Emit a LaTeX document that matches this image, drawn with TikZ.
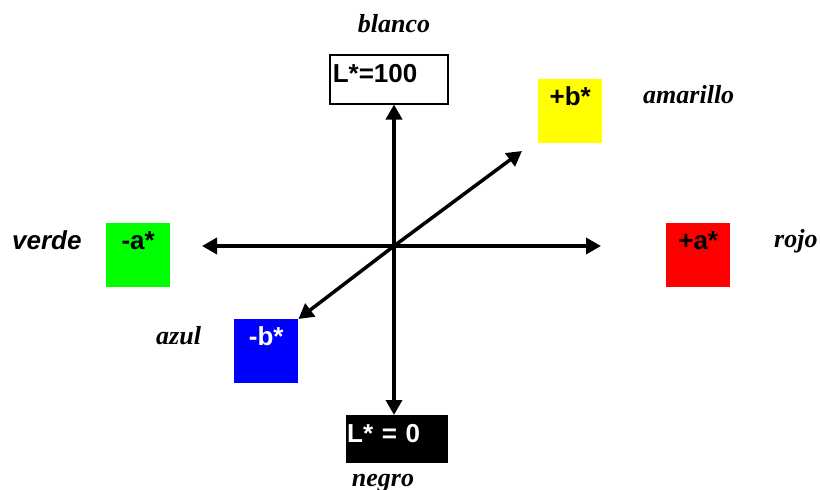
\documentclass[tikz,border=0pt]{standalone}
\usepackage{fontspec}
\setmainfont{Liberation Serif}
\setsansfont{Liberation Sans}
\usetikzlibrary{arrows.meta}
\definecolor{lab-red}{HTML}{FF0000}
\definecolor{lab-green}{HTML}{00FF00}
\definecolor{lab-blue}{HTML}{0000FF}
\definecolor{lab-yellow}{HTML}{FFFF00}
\newcommand{\bigsize}{\fontsize{26}{30}\selectfont}

\begin{document}
\begin{tikzpicture}[
    x=1pt, y=-1pt,
    >={Triangle[length=15pt,width=16pt]}
  ]

  % Styles for the colour swatches, the L* boxes and the colour names
  \tikzset{
    swatch/.style={anchor=north west, inner sep=0pt, minimum width=64pt, text height=26pt, text depth=38pt, font=\sffamily\bfseries\bigsize},
    lbox/.style={anchor=north west, inner ysep=0pt, align=left, text depth=21pt, font=\sffamily\bfseries\bigsize},
    cname/.style={font=\bfseries\itshape\bigsize},
    axis/.style={->, line width=3.5pt}
  }

  \useasboundingbox (0,0) rectangle (820,490);

  % Lightness boxes
  \node (white) [lbox, draw, line width=1.5pt, inner xsep=3pt, text width=112pt, text height=28pt] at (329,54) {L*=100};
  \node (black) [lbox, fill=black, text=white, inner xsep=1pt, text width=100pt, text height=27pt] at (346,415) {L* = 0};

  % Colour swatches
  \node (green)  [swatch, fill=lab-green]  at (106,223) {-a*};
  \node (red)    [swatch, fill=lab-red]    at (666,223) {+a*};
  \node (yellow) [swatch, fill=lab-yellow] at (538,79)  {+b*};
  \node (blue)   [swatch, fill=lab-blue, text=white] at (234,319) {-b*};

  % Colour names
  \node (blanco)   [cname, anchor=base] at (394,32) {blanco};
  \node (negro)    [cname, anchor=base] at (383,486) {negro};
  \node (amarillo) [cname, anchor=base west, inner xsep=0pt] at (643,103) {amarillo};
  \node (rojo)     [cname, anchor=base west, inner xsep=0pt] at (774,247) {rojo};
  \node (azul)     [cname, anchor=base west, inner xsep=0pt] at (156,344) {azul};
  \node (verde)    [cname, font=\sffamily\bfseries\itshape\bigsize, anchor=base west, inner xsep=0pt] at (12,249) {verde};

  % Axes
  \coordinate (o)    at (394,246);
  \coordinate (west) at (202,246);
  \coordinate (east) at (601,246);
  \coordinate (ne)   at (522,151);

  \draw[axis] (o) -- (o |- white.south);
  \draw[axis] (o) -- (o |- black.north);
  \draw[axis] (o) -- (west);
  \draw[axis] (o) -- (east);
  \draw[axis] (o) -- (ne);
  \draw[axis] (o) -- (blue.north east);

\end{tikzpicture}
\end{document}
